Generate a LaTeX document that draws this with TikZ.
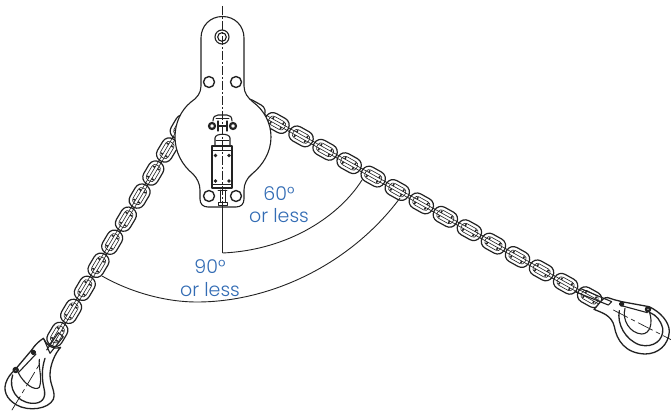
\documentclass[tikz,border=0pt]{standalone}
\usepackage{fontspec}
\setmainfont{Poppins Light}
\definecolor{ink}{HTML}{222222}
\definecolor{lab}{HTML}{336CB4}
\tikzset{
  ln/.style={draw=ink,line width=1.1pt,line cap=round,line join=round},
  thin ln/.style={draw=ink,line width=0.6pt,line cap=round,line join=round},
  arcl/.style={draw=ink,line width=0.9pt},
  axis/.style={draw=ink,line width=0.8pt,dash pattern=on 9pt off 2pt on 2pt off 2pt},
  labeltext/.style={text=lab,font=\fontsize{19}{22}\selectfont,inner sep=0pt},
}
% one chain link: \chlink{x}{y}{canvas angle}
\newcommand{\chlink}[3]{%
  \begin{scope}[shift={(#1,#2)},rotate=#3]
    \draw[ln,fill=white,line width=1.2pt,rounded corners=7.5pt] (-12.6,-8) rectangle (12.6,8);
    \draw[thin ln,rounded corners=3.5pt] (-8.8,-4.6) rectangle (8.8,4.6);
    \fill[ink] (-6.5,-3.8) rectangle (-5,-1.5) (-6.5,1.5) rectangle (-5,3.8);
    \fill[ink] (5,-3.8) rectangle (6.5,-1.5) (5,1.5) rectangle (6.5,3.8);
    \draw[thin ln] (-14.5,-1.5) -- (14.5,-1.5) (-14.5,1.5) -- (14.5,1.5);
  \end{scope}}
\begin{document}
\begin{tikzpicture}[x=1pt,y=-1pt]
\useasboundingbox (0,0) rectangle (671,411);
% left chain
\foreach \i in {-1,...,8} {
  \pgfmathsetmacro{\px}{167-13.7*\i}
  \pgfmathsetmacro{\py}{150+23.05*\i}
  \chlink{\px}{\py}{59.3}
}
% right chain
\foreach \i in {-1,...,13} {
  \pgfmathsetmacro{\px}{277+24.05*\i}
  \pgfmathsetmacro{\py}{123+13.4*\i}
  \chlink{\px}{\py}{-29.1}
}
% plate
\draw[ln,fill=white,line width=1.1pt]
  (201,38) .. controls (201,26) and (210,16.5) .. (222.5,16.5)
  .. controls (235,16.5) and (244,26) .. (244,38)
  -- (244,86) .. controls (244,93) and (248,98) .. (253,102)
  .. controls (264,110) and (271,123) .. (271,137)
  .. controls (271,152) and (263,165) .. (252,174)
  .. controls (247,178) and (244,184) .. (244,190)
  -- (244,199) .. controls (244,204) and (241,207) .. (236,207)
  -- (208,207) .. controls (203,207) and (200,204) .. (200,199)
  -- (200,190) .. controls (200,184) and (197,178) .. (193,174)
  .. controls (182,165) and (175,152) .. (175,137)
  .. controls (175,123) and (181,110) .. (191,102)
  .. controls (197,98) and (201,93) .. (201,86) -- cycle;
% holes
\draw[ln,line width=1.4pt] (209,82) circle[radius=5.5] (236,82) circle[radius=5.5]
  (209,196) circle[radius=5.5] (236,196) circle[radius=5.5];
\draw[ln] (222,37) circle[radius=7];
\draw[ln] (222,37) circle[radius=4.3];
% mechanism
\draw[ln] (213,121) .. controls (213,117) and (215,115) .. (218,115) -- (227,115)
  .. controls (230,115) and (232,117) .. (232,121);
\draw[thin ln] (216,118) -- (229,118);
\draw[ln,line width=2.2pt] (212,126) circle[radius=3] (233,126) circle[radius=3];
\draw[ln] (218,121) -- (218,131) (227,121) -- (227,131) (218,126) -- (227,126);
\draw[ln] (215,146) -- (215,138) .. controls (215,133) and (230,133) .. (230,138) -- (230,146);
\draw[thin ln] (216,140) -- (229,140);
\draw[ln,fill=white] (212,146) rectangle (232,188);
\draw[thin ln] (212,150) -- (232,150) (212,184) -- (232,184);
\fill[ink] (215.5,155.5) circle[radius=1.8] (229,155.5) circle[radius=1.8]
  (215.5,181) circle[radius=1.8] (229,181) circle[radius=1.8];
\draw[thin ln] (218,188) -- (227,188) (218,190) -- (227,190)
  (220,190) -- (220,202) (225,190) -- (225,202)
  (218,202) rectangle (227,205);
% axis
\draw[axis] (222.5,6) -- (222.5,207);
\draw[arcl] (222.5,207) -- (222.5,253);
% left hook
\begin{scope}[shift={(0,300)},scale=1/3]
  \draw[ln,fill=white,line width=1.3pt]
    (182,142) .. controls (165,160) and (150,195) .. (150,225)
    .. controls (150,255) and (168,275) .. (160,298)
    .. controls (145,328) and (85,335) .. (50,315)
    .. controls (20,298) and (5,270) .. (22,238)
    .. controls (30,222) and (40,215) .. (47,207)
    -- (95,150) .. controls (105,135) and (115,125) .. (130,115)
    .. controls (140,135) and (155,150) .. (182,142) -- cycle;
  \draw[ln,line width=1.3pt] (38,225) .. controls (25,265) and (48,305) .. (95,310)
    .. controls (125,312) and (140,295) .. (132,265)
    .. controls (125,235) and (125,205) .. (135,175);
  \draw[ln] (55,218) .. controls (70,250) and (105,275) .. (118,262)
    .. controls (128,235) and (115,205) .. (118,178);
  \draw[ln] (55,218) -- (108,162);
  \draw[ln,line width=2.4pt] (47,210) circle[radius=6] (100,157) circle[radius=5];
  \draw[ln] (132,118) -- (150,160) -- (190,110) -- (175,98) -- (140,150);
  \draw[ln,dash pattern=on 16pt off 4pt on 4pt off 4pt,line width=.7pt] (36,330) -- (120,190);
\end{scope}
% right hook
\begin{scope}[shift={(570,290)},scale=1/3]
  \draw[ln,fill=white,line width=1.3pt]
    (120,25) .. controls (100,15) and (90,40) .. (72,58)
    .. controls (95,68) and (125,75) .. (133,110)
    .. controls (140,150) and (165,190) .. (225,192)
    .. controls (265,192) and (295,165) .. (298,125)
    .. controls (298,95) and (270,65) .. (237,50)
    -- (155,35) .. controls (140,30) and (130,30) .. (120,25) -- cycle;
  \draw[ln,line width=1.3pt] (148,62) .. controls (140,100) and (165,150) .. (210,165)
    .. controls (250,175) and (282,150) .. (278,115)
    .. controls (272,90) and (258,75) .. (240,68);
  \draw[ln] (165,55) .. controls (155,90) and (180,130) .. (215,132)
    .. controls (240,132) and (250,100) .. (238,65);
  \draw[ln] (158,48) -- (232,68);
  \draw[ln,line width=2.4pt] (155,42) circle[radius=5] (234,58) circle[radius=6];
  \draw[ln] (15,5) -- (115,45) -- (125,35) -- (30,-5);
  \draw[ln,dash pattern=on 16pt off 4pt on 4pt off 4pt,line width=.7pt] (130,60) -- (305,150);
\end{scope}
% angle arcs
\draw[arcl] (222.5,253) .. controls (290,250) and (340,215) .. (362,180);
\draw[arcl] (102,276) .. controls (130,292) and (165,302) .. (197,302)
  .. controls (270,302) and (350,265) .. (400,198);
% labels
\node[labeltext] (a60) at (279,194) {60°};
\node[labeltext] (l60) at (279,216) {or less};
\node[labeltext] (a90) at (210,267) {90°};
\node[labeltext] (l90) at (210,290) {or less};
\end{tikzpicture}
\end{document}
